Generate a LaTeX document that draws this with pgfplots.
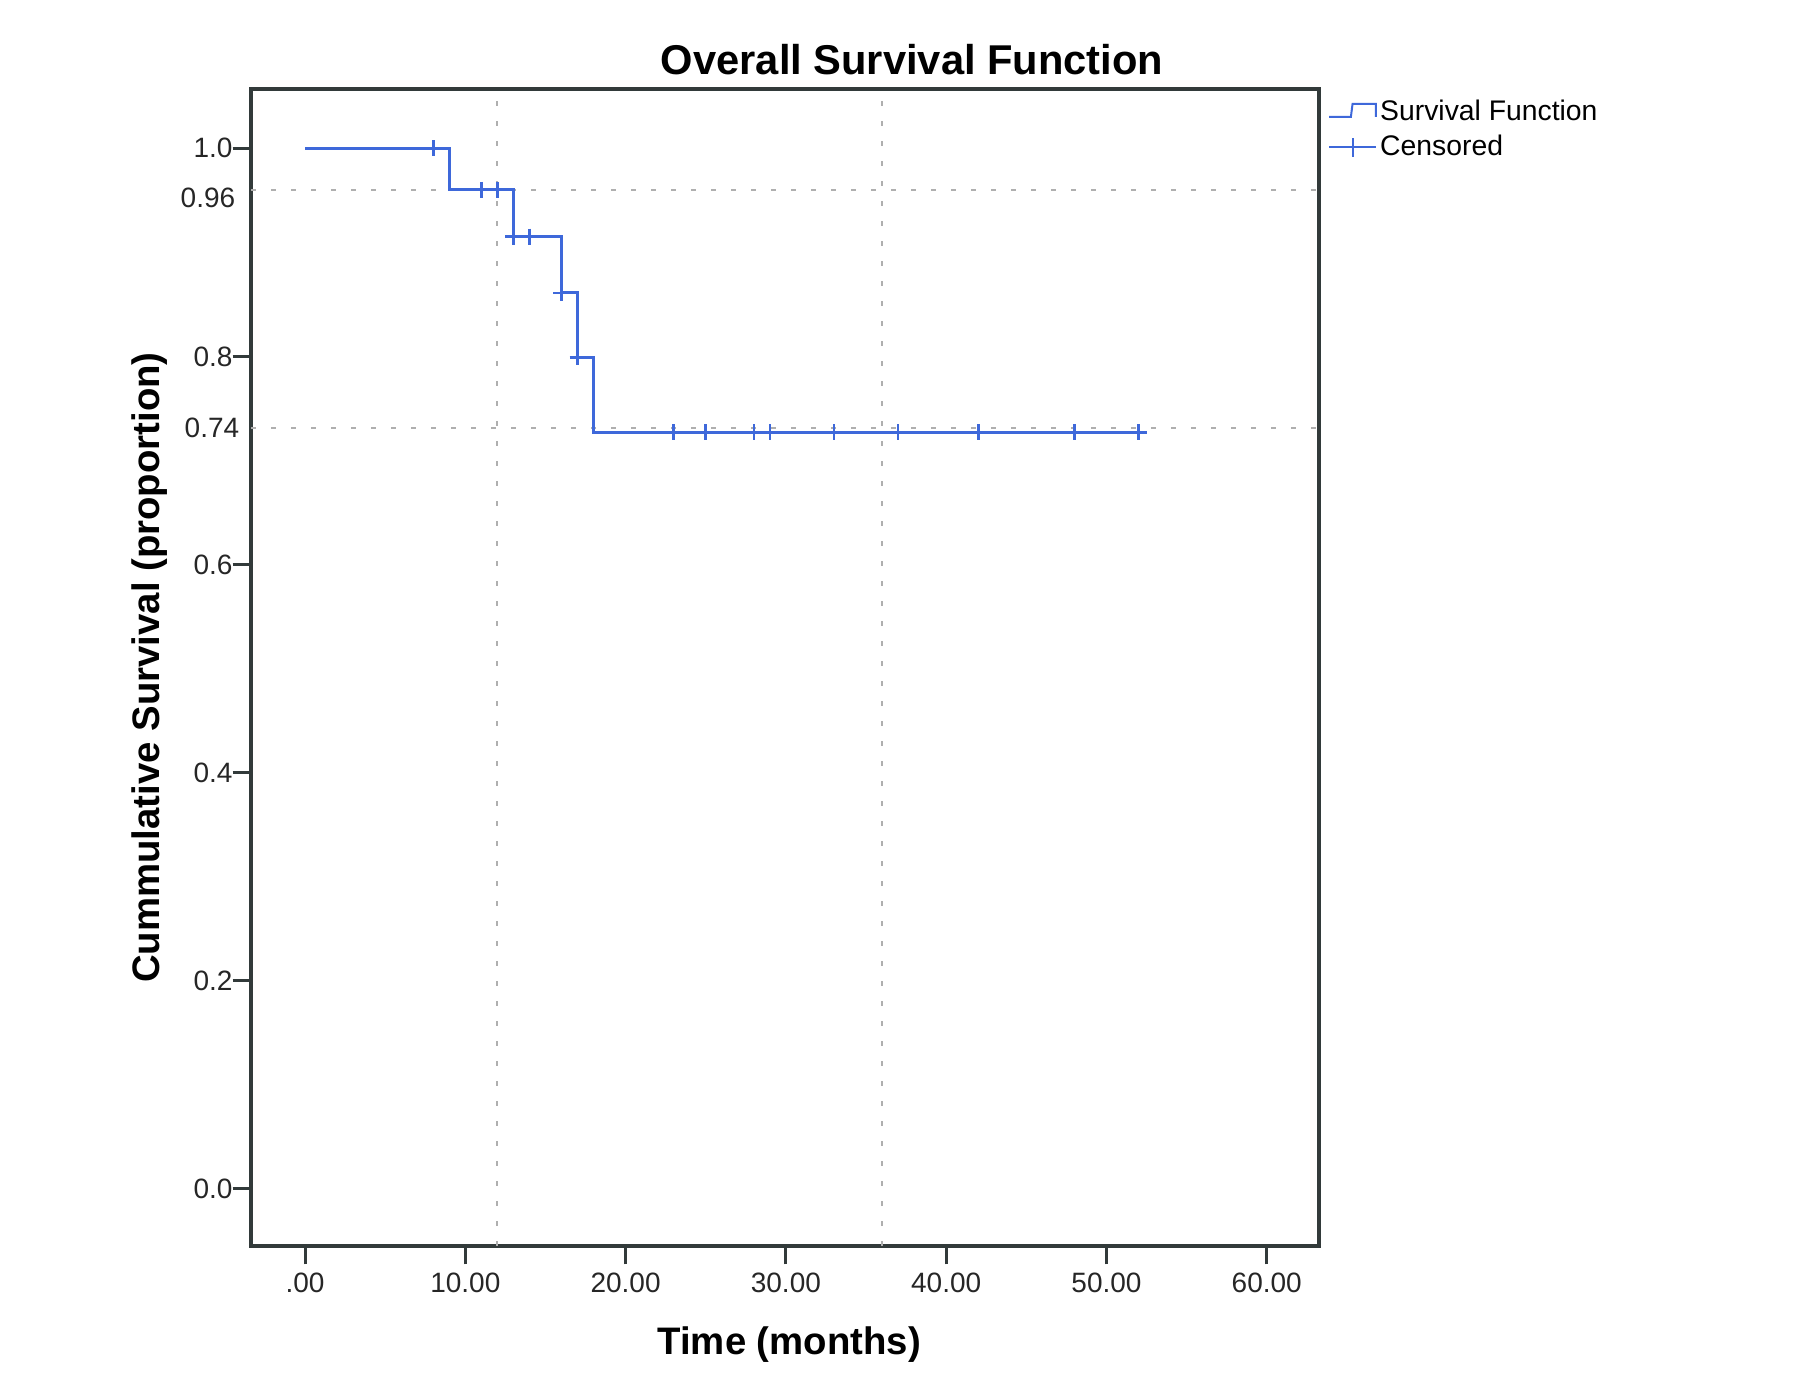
\documentclass[border=0pt]{standalone}
\usepackage{pgfplots}
\pgfplotsset{compat=1.18}
\usepackage{fontspec}
\setmainfont{Liberation Sans}
\definecolor{kmblue}{RGB}{62,104,218}
\definecolor{framegray}{RGB}{50,58,58}
\definecolor{gridgray}{RGB}{175,175,175}
\begin{document}
\begin{tikzpicture}
\path[use as bounding box] (0,0) rectangle (540pt,417.3pt);
\begin{axis}[
  at={(75.3pt,43.5pt)}, anchor=south west,
  scale only axis,
  width=320.4pt, height=347.1pt,
  xmin=-3.37, xmax=63.26,
  ymin=-0.055, ymax=1.057,
  axis line style={framegray, line width=1.2pt},
  xtick={0,10,...,60},
  xticklabels={.00,10.00,20.00,30.00,40.00,50.00,60.00},
  ytick={0,0.2,0.4,0.6,0.8,1.0},
  yticklabels={0.0,0.2,0.4,0.6,0.8,1.0},
  tick align=outside,
  xtick pos=bottom, ytick pos=left,
  major tick length=5.5pt,
  tick style={framegray, line width=0.9pt},
  ticklabel style={font=\fontsize{8.4}{10}\selectfont, text=black!85},
  /pgf/number format/assume math mode=true,
  xticklabel style={yshift=0.8pt},
  yticklabel style={xshift=3.5pt},
  extra x ticks={12,36},
  extra x tick labels={},
  extra y ticks={0.96,0.731},
  extra y tick labels={\raisebox{-2.4pt}[0pt][0pt]{0.96\hspace{1.2pt}}\vphantom{0},0.74},
  extra tick style={
    major tick length=0pt,
    grid=major,
    major grid style={gridgray, line width=0.6pt, dash pattern=on 1.5pt off 4.5pt},
  },
  extra y tick style={yticklabel style={xshift=-3.5pt}},
  xlabel={\bfseries Time (months)},
  ylabel={\bfseries Cummulative Survival (proportion)},
  label style={font=\fontsize{11.5}{13}\selectfont},
  xlabel style={at={(rel axis cs:0.504,-0.085)}, anchor=center},
  ylabel style={at={(rel axis cs:-0.095,0.5)}, anchor=center},
  title={\bfseries Overall Survival Function},
  title style={font=\fontsize{12.5}{14}\selectfont, at={(rel axis cs:0.619,1.0)}, anchor=south, yshift=-5.4pt},
  legend style={
    at={(rel axis cs:1.008,0.997)}, anchor=north west,
    draw=none, fill=none, inner sep=0pt,
    font=\fontsize{8.5}{10}\selectfont,
    row sep=-1.2pt,
    cells={anchor=west},
    /tikz/every odd column/.append style={column sep=-1pt},
  },
]
\addplot[const plot, kmblue, line width=0.9pt,
  legend image code/.code={
    \draw[kmblue, line width=0.6pt] (0pt,-1.3pt) -- (6.5pt,-1.3pt) -- (7pt,2.6pt) -- (14pt,2.6pt) -- (14pt,-1.3pt);
  }] coordinates {
  (0,1.000)
  (9,0.960)
  (13,0.915)
  (16,0.861)
  (17,0.799)
  (18,0.727)
  (52,0.727)
};
\addlegendentry{Survival Function}
\addplot[only marks, mark=+, mark size=2.4pt, kmblue, mark options={line width=0.8pt},
  legend image code/.code={
    \draw[kmblue, line width=0.6pt] (0pt,0pt) -- (14pt,0pt);
    \draw[kmblue, line width=0.6pt] (7pt,-2.8pt) -- (7pt,2.8pt);
  }] coordinates {
  (8,1.000)
  (11,0.960) (12,0.960)
  (13,0.915) (14,0.915)
  (16,0.861)
  (17,0.799)
  (23,0.727) (25,0.727) (28,0.727) (29,0.727) (33,0.727)
  (37,0.727) (42,0.727) (48,0.727) (52,0.727)
};
\addlegendentry{Censored}
\end{axis}
\end{tikzpicture}
\end{document}
